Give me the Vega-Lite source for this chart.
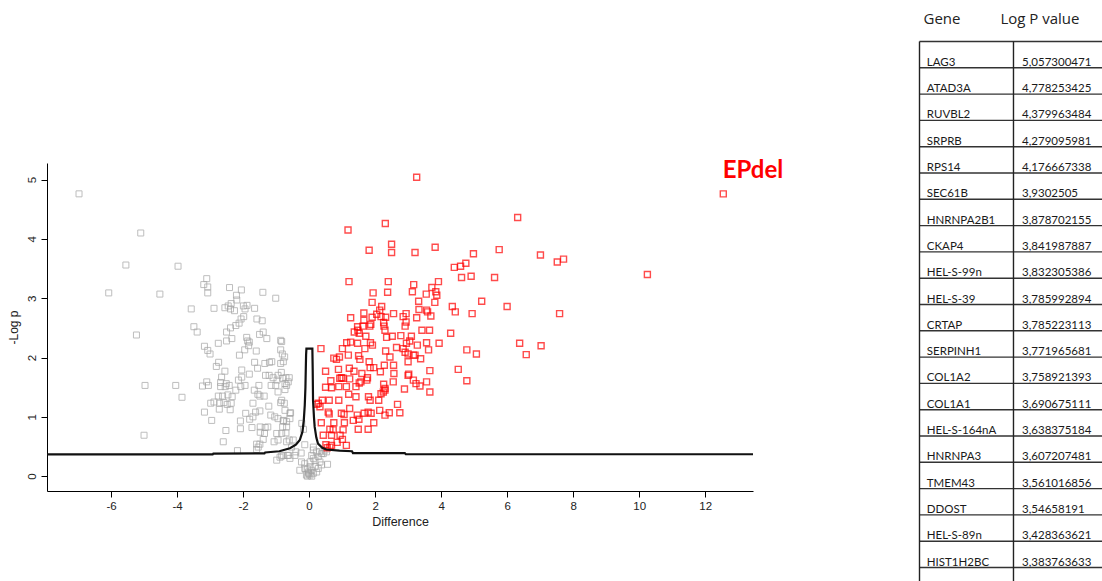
{
"$schema":"https://vega.github.io/schema/vega-lite/v6.json",
"width":706,"height":328,
"autosize":{"type":"none"},
"padding":{"left":47,"top":163,"right":349,"bottom":90},
"background":"white",
"config":{"view":{"stroke":null},"font":"Liberation Sans"},
"datasets":{
"pts":[
{"x":-6.97,"y":4.76,"g":"ns"},{"x":-5.10,"y":4.10,"g":"ns"},{"x":-5.55,"y":3.56,"g":"ns"},{"x":-3.97,"y":3.54,"g":"ns"},{"x":-6.07,"y":3.09,"g":"ns"},{"x":-4.52,"y":3.07,"g":"ns"},{"x":-3.10,"y":3.33,"g":"ns"},{"x":-3.19,"y":3.23,"g":"ns"},{"x":-3.07,"y":3.19,"g":"ns"},{"x":-3.07,"y":3.09,"g":"ns"},{"x":-2.41,"y":3.18,"g":"ns"},{"x":-2.05,"y":3.14,"g":"ns"},{"x":-1.40,"y":3.10,"g":"ns"},{"x":-1.01,"y":3.00,"g":"ns"},{"x":-3.57,"y":2.82,"g":"ns"},{"x":-2.88,"y":2.83,"g":"ns"},{"x":-2.55,"y":2.84,"g":"ns"},{"x":-2.45,"y":2.87,"g":"ns"},{"x":-2.36,"y":2.91,"g":"ns"},{"x":-2.20,"y":3.05,"g":"ns"},{"x":-2.19,"y":2.97,"g":"ns"},{"x":-2.26,"y":2.79,"g":"ns"},{"x":-2.38,"y":2.82,"g":"ns"},{"x":-1.99,"y":2.87,"g":"ns"},{"x":-1.88,"y":2.88,"g":"ns"},{"x":-1.65,"y":2.83,"g":"ns"},{"x":-1.94,"y":2.82,"g":"ns"},{"x":-1.98,"y":2.69,"g":"ns"},{"x":-2.06,"y":2.65,"g":"ns"},{"x":-2.12,"y":2.58,"g":"ns"},{"x":-2.22,"y":2.54,"g":"ns"},{"x":-2.38,"y":2.50,"g":"ns"},{"x":-3.49,"y":2.52,"g":"ns"},{"x":-3.39,"y":2.43,"g":"ns"},{"x":-2.50,"y":2.43,"g":"ns"},{"x":-1.58,"y":2.65,"g":"ns"},{"x":-1.42,"y":2.62,"g":"ns"},{"x":-1.50,"y":2.39,"g":"ns"},{"x":-1.39,"y":2.43,"g":"ns"},{"x":-5.23,"y":2.38,"g":"ns"},{"x":-1.89,"y":2.34,"g":"ns"},{"x":-1.28,"y":2.32,"g":"ns"},{"x":-0.86,"y":2.29,"g":"ns"},{"x":-2.34,"y":2.32,"g":"ns"},{"x":-2.50,"y":2.28,"g":"ns"},{"x":-1.86,"y":2.28,"g":"ns"},{"x":-1.81,"y":2.26,"g":"ns"},{"x":-2.75,"y":2.24,"g":"ns"},{"x":-1.83,"y":2.20,"g":"ns"},{"x":-3.17,"y":2.19,"g":"ns"},{"x":-3.07,"y":2.12,"g":"ns"},{"x":-3.00,"y":2.06,"g":"ns"},{"x":-1.95,"y":2.13,"g":"ns"},{"x":-2.11,"y":2.04,"g":"ns"},{"x":-1.60,"y":2.11,"g":"ns"},{"x":-0.86,"y":2.13,"g":"ns"},{"x":-0.81,"y":2.06,"g":"ns"},{"x":-0.74,"y":2.01,"g":"ns"},{"x":-2.74,"y":1.92,"g":"ns"},{"x":-2.81,"y":1.85,"g":"ns"},{"x":-1.65,"y":1.92,"g":"ns"},{"x":-1.56,"y":1.82,"g":"ns"},{"x":-1.34,"y":1.90,"g":"ns"},{"x":-1.20,"y":1.92,"g":"ns"},{"x":-1.13,"y":1.93,"g":"ns"},{"x":-0.86,"y":1.90,"g":"ns"},{"x":-2.55,"y":1.77,"g":"ns"},{"x":-2.04,"y":1.79,"g":"ns"},{"x":-1.81,"y":1.72,"g":"ns"},{"x":-1.32,"y":1.70,"g":"ns"},{"x":-1.21,"y":1.70,"g":"ns"},{"x":-0.84,"y":1.75,"g":"ns"},{"x":-4.04,"y":1.53,"g":"ns"},{"x":-3.85,"y":1.33,"g":"ns"},{"x":-3.23,"y":1.52,"g":"ns"},{"x":-3.05,"y":1.53,"g":"ns"},{"x":-3.10,"y":1.59,"g":"ns"},{"x":-2.65,"y":1.67,"g":"ns"},{"x":-2.68,"y":1.58,"g":"ns"},{"x":-2.68,"y":1.51,"g":"ns"},{"x":-2.51,"y":1.56,"g":"ns"},{"x":-2.42,"y":1.53,"g":"ns"},{"x":-2.54,"y":1.51,"g":"ns"},{"x":-2.14,"y":1.62,"g":"ns"},{"x":-2.04,"y":1.67,"g":"ns"},{"x":-1.94,"y":1.53,"g":"ns"},{"x":-2.07,"y":1.51,"g":"ns"},{"x":-2.22,"y":1.45,"g":"ns"},{"x":-2.33,"y":1.34,"g":"ns"},{"x":-2.46,"y":1.37,"g":"ns"},{"x":-2.62,"y":1.35,"g":"ns"},{"x":-2.75,"y":1.35,"g":"ns"},{"x":-2.88,"y":1.25,"g":"ns"},{"x":-2.98,"y":1.23,"g":"ns"},{"x":-2.71,"y":1.23,"g":"ns"},{"x":-2.58,"y":1.24,"g":"ns"},{"x":-2.48,"y":1.21,"g":"ns"},{"x":-2.36,"y":1.23,"g":"ns"},{"x":-2.72,"y":1.13,"g":"ns"},{"x":-2.39,"y":1.12,"g":"ns"},{"x":-3.17,"y":1.08,"g":"ns"},{"x":-2.95,"y":0.94,"g":"ns"},{"x":-1.66,"y":1.45,"g":"ns"},{"x":-1.52,"y":1.53,"g":"ns"},{"x":-1.49,"y":1.35,"g":"ns"},{"x":-1.36,"y":1.35,"g":"ns"},{"x":-1.55,"y":1.38,"g":"ns"},{"x":-1.09,"y":1.66,"g":"ns"},{"x":-0.94,"y":1.70,"g":"ns"},{"x":-0.97,"y":1.62,"g":"ns"},{"x":-1.15,"y":1.53,"g":"ns"},{"x":-1.01,"y":1.53,"g":"ns"},{"x":-0.80,"y":1.65,"g":"ns"},{"x":-0.70,"y":1.66,"g":"ns"},{"x":-0.60,"y":1.66,"g":"ns"},{"x":-0.73,"y":1.56,"g":"ns"},{"x":-0.68,"y":1.53,"g":"ns"},{"x":-0.94,"y":1.42,"g":"ns"},{"x":-0.73,"y":1.46,"g":"ns"},{"x":-1.70,"y":1.23,"g":"ns"},{"x":-1.62,"y":1.08,"g":"ns"},{"x":-1.49,"y":1.10,"g":"ns"},{"x":-1.92,"y":1.06,"g":"ns"},{"x":-1.80,"y":0.96,"g":"ns"},{"x":-1.70,"y":1.00,"g":"ns"},{"x":-2.08,"y":0.93,"g":"ns"},{"x":-2.08,"y":0.80,"g":"ns"},{"x":-2.52,"y":0.77,"g":"ns"},{"x":-2.60,"y":0.58,"g":"ns"},{"x":-2.17,"y":0.43,"g":"ns"},{"x":-1.22,"y":1.18,"g":"ns"},{"x":-0.86,"y":1.24,"g":"ns"},{"x":-0.75,"y":1.23,"g":"ns"},{"x":-1.16,"y":1.03,"g":"ns"},{"x":-1.04,"y":1.00,"g":"ns"},{"x":-0.94,"y":0.97,"g":"ns"},{"x":-0.78,"y":0.93,"g":"ns"},{"x":-0.68,"y":0.92,"g":"ns"},{"x":-0.58,"y":0.97,"g":"ns"},{"x":-0.56,"y":1.07,"g":"ns"},{"x":-1.73,"y":0.82,"g":"ns"},{"x":-1.48,"y":0.83,"g":"ns"},{"x":-1.33,"y":0.82,"g":"ns"},{"x":-1.25,"y":0.83,"g":"ns"},{"x":-1.48,"y":0.74,"g":"ns"},{"x":-1.35,"y":0.72,"g":"ns"},{"x":-1.39,"y":0.62,"g":"ns"},{"x":-1.59,"y":0.54,"g":"ns"},{"x":-1.54,"y":0.49,"g":"ns"},{"x":-1.49,"y":0.54,"g":"ns"},{"x":-1.59,"y":0.45,"g":"ns"},{"x":-0.98,"y":0.72,"g":"ns"},{"x":-0.80,"y":0.83,"g":"ns"},{"x":-0.70,"y":0.73,"g":"ns"},{"x":-0.60,"y":0.61,"g":"ns"},{"x":-0.94,"y":0.61,"g":"ns"},{"x":-1.06,"y":0.58,"g":"ns"},{"x":-0.22,"y":0.89,"g":"ns"},{"x":-0.17,"y":0.79,"g":"ns"},{"x":-0.98,"y":0.27,"g":"ns"},{"x":-0.83,"y":0.34,"g":"ns"},{"x":-0.66,"y":0.35,"g":"ns"},{"x":-0.58,"y":0.30,"g":"ns"},{"x":-0.43,"y":0.35,"g":"ns"},{"x":-0.40,"y":0.41,"g":"ns"},{"x":-0.24,"y":0.39,"g":"ns"},{"x":-0.13,"y":0.53,"g":"ns"},{"x":0.13,"y":0.44,"g":"ns"},{"x":0.23,"y":0.41,"g":"ns"},{"x":0.08,"y":0.35,"g":"ns"},{"x":0.28,"y":0.33,"g":"ns"},{"x":0.18,"y":0.27,"g":"ns"},{"x":0.33,"y":0.24,"g":"ns"},{"x":0.03,"y":0.24,"g":"ns"},{"x":-0.13,"y":0.21,"g":"ns"},{"x":-0.23,"y":0.24,"g":"ns"},{"x":-0.28,"y":0.10,"g":"ns"},{"x":-0.13,"y":0.13,"g":"ns"},{"x":-0.02,"y":0.07,"g":"ns"},{"x":0.08,"y":0.10,"g":"ns"},{"x":0.18,"y":0.16,"g":"ns"},{"x":0.28,"y":0.13,"g":"ns"},{"x":-0.08,"y":0.02,"g":"ns"},{"x":0.03,"y":0.02,"g":"ns"},{"x":0.13,"y":0.05,"g":"ns"},{"x":0.23,"y":0.07,"g":"ns"},{"x":0.38,"y":0.19,"g":"ns"},{"x":-0.63,"y":0.35,"g":"ns"},{"x":-0.88,"y":0.32,"g":"ns"},{"x":-0.78,"y":0.35,"g":"ns"},{"x":-0.53,"y":0.49,"g":"ns"},{"x":-0.68,"y":0.58,"g":"ns"},{"x":0.38,"y":0.38,"g":"ns"},{"x":0.48,"y":0.44,"g":"ns"},{"x":0.13,"y":0.49,"g":"ns"},{"x":0.32,"y":0.41,"g":"ns"},{"x":0.43,"y":0.38,"g":"ns"},{"x":0.53,"y":0.41,"g":"ns"},{"x":0.56,"y":0.20,"g":"ns"},{"x":0.13,"y":0.30,"g":"ns"},{"x":-0.02,"y":0.05,"g":"ns"},{"x":0.03,"y":0.16,"g":"ns"},{"x":-0.83,"y":2.27,"g":"ns"},{"x":-0.78,"y":1.93,"g":"ns"},{"x":-0.63,"y":1.59,"g":"ns"},{"x":-0.83,"y":1.28,"g":"ns"},{"x":-0.73,"y":1.11,"g":"ns"},{"x":-0.58,"y":1.06,"g":"ns"},{"x":-0.78,"y":0.94,"g":"ns"},{"x":-0.68,"y":0.83,"g":"ns"},{"x":-0.83,"y":0.72,"g":"ns"},{"x":-0.48,"y":0.61,"g":"ns"},{"x":-5.0,"y":0.69,"g":"ns"},{"x":-4.97,"y":1.53,"g":"ns"},{"x":-0.05,"y":0.0,"g":"ns"},{"x":0.0,"y":0.04,"g":"ns"},{"x":-0.05,"y":0.12,"g":"ns"},{"x":0.08,"y":0.0,"g":"ns"},
{"x":3.26,"y":5.04,"g":"sig"},{"x":6.32,"y":4.36,"g":"sig"},{"x":1.18,"y":4.15,"g":"sig"},{"x":2.31,"y":4.26,"g":"sig"},{"x":2.50,"y":3.91,"g":"sig"},{"x":1.82,"y":3.81,"g":"sig"},{"x":2.50,"y":3.77,"g":"sig"},{"x":3.21,"y":3.77,"g":"sig"},{"x":3.82,"y":3.86,"g":"sig"},{"x":4.98,"y":3.75,"g":"sig"},{"x":5.76,"y":3.82,"g":"sig"},{"x":7.01,"y":3.73,"g":"sig"},{"x":4.40,"y":3.52,"g":"sig"},{"x":4.59,"y":3.54,"g":"sig"},{"x":4.75,"y":3.59,"g":"sig"},{"x":1.21,"y":3.28,"g":"sig"},{"x":2.40,"y":3.28,"g":"sig"},{"x":3.17,"y":3.23,"g":"sig"},{"x":3.92,"y":3.28,"g":"sig"},{"x":4.62,"y":3.35,"g":"sig"},{"x":4.91,"y":3.37,"g":"sig"},{"x":5.62,"y":3.35,"g":"sig"},{"x":3.72,"y":3.18,"g":"sig"},{"x":3.84,"y":3.11,"g":"sig"},{"x":3.87,"y":3.05,"g":"sig"},{"x":3.13,"y":3.11,"g":"sig"},{"x":3.55,"y":3.07,"g":"sig"},{"x":1.94,"y":3.09,"g":"sig"},{"x":2.38,"y":3.10,"g":"sig"},{"x":1.91,"y":2.93,"g":"sig"},{"x":2.20,"y":2.86,"g":"sig"},{"x":3.32,"y":2.95,"g":"sig"},{"x":3.81,"y":2.93,"g":"sig"},{"x":4.34,"y":2.86,"g":"sig"},{"x":4.43,"y":2.77,"g":"sig"},{"x":5.23,"y":2.95,"g":"sig"},{"x":6.00,"y":2.86,"g":"sig"},{"x":3.33,"y":2.81,"g":"sig"},{"x":3.56,"y":2.80,"g":"sig"},{"x":3.59,"y":2.77,"g":"sig"},{"x":4.94,"y":2.74,"g":"sig"},{"x":1.66,"y":2.75,"g":"sig"},{"x":2.14,"y":2.80,"g":"sig"},{"x":2.05,"y":2.73,"g":"sig"},{"x":2.18,"y":2.69,"g":"sig"},{"x":2.32,"y":2.68,"g":"sig"},{"x":2.56,"y":2.74,"g":"sig"},{"x":2.94,"y":2.74,"g":"sig"},{"x":2.85,"y":2.69,"g":"sig"},{"x":3.26,"y":2.67,"g":"sig"},{"x":3.69,"y":2.70,"g":"sig"},{"x":1.26,"y":2.67,"g":"sig"},{"x":1.66,"y":2.63,"g":"sig"},{"x":1.91,"y":2.68,"g":"sig"},{"x":2.26,"y":2.59,"g":"sig"},{"x":2.94,"y":2.60,"g":"sig"},{"x":2.27,"y":2.53,"g":"sig"},{"x":1.87,"y":2.56,"g":"sig"},{"x":1.84,"y":2.53,"g":"sig"},{"x":1.63,"y":2.53,"g":"sig"},{"x":1.47,"y":2.52,"g":"sig"},{"x":2.91,"y":2.53,"g":"sig"},{"x":1.37,"y":2.43,"g":"sig"},{"x":1.52,"y":2.41,"g":"sig"},{"x":1.48,"y":2.46,"g":"sig"},{"x":1.72,"y":2.36,"g":"sig"},{"x":2.30,"y":2.46,"g":"sig"},{"x":2.35,"y":2.34,"g":"sig"},{"x":2.52,"y":2.36,"g":"sig"},{"x":2.78,"y":2.37,"g":"sig"},{"x":3.10,"y":2.36,"g":"sig"},{"x":3.42,"y":2.46,"g":"sig"},{"x":3.65,"y":2.46,"g":"sig"},{"x":4.29,"y":2.41,"g":"sig"},{"x":12.55,"y":4.76,"g":"sig"},{"x":10.25,"y":3.40,"g":"sig"},{"x":7.52,"y":3.61,"g":"sig"},{"x":7.71,"y":3.66,"g":"sig"},{"x":7.59,"y":2.74,"g":"sig"},{"x":3.56,"y":2.25,"g":"sig"},{"x":3.62,"y":2.13,"g":"sig"},{"x":3.94,"y":2.24,"g":"sig"},{"x":4.78,"y":2.13,"g":"sig"},{"x":5.07,"y":2.06,"g":"sig"},{"x":6.38,"y":2.24,"g":"sig"},{"x":6.58,"y":2.05,"g":"sig"},{"x":7.03,"y":2.20,"g":"sig"},{"x":3.38,"y":1.98,"g":"sig"},{"x":3.66,"y":1.78,"g":"sig"},{"x":4.52,"y":1.80,"g":"sig"},{"x":3.56,"y":1.59,"g":"sig"},{"x":4.78,"y":1.61,"g":"sig"},{"x":3.05,"y":2.28,"g":"sig"},{"x":3.28,"y":2.21,"g":"sig"},{"x":3.16,"y":2.04,"g":"sig"},{"x":3.21,"y":2.04,"g":"sig"},{"x":1.14,"y":2.25,"g":"sig"},{"x":1.26,"y":2.26,"g":"sig"},{"x":1.47,"y":2.24,"g":"sig"},{"x":1.86,"y":2.25,"g":"sig"},{"x":1.92,"y":2.21,"g":"sig"},{"x":0.36,"y":2.15,"g":"sig"},{"x":1.01,"y":2.15,"g":"sig"},{"x":1.69,"y":2.15,"g":"sig"},{"x":2.32,"y":2.11,"g":"sig"},{"x":2.65,"y":2.17,"g":"sig"},{"x":2.91,"y":2.09,"g":"sig"},{"x":0.75,"y":1.99,"g":"sig"},{"x":0.92,"y":2.01,"g":"sig"},{"x":0.83,"y":1.97,"g":"sig"},{"x":1.19,"y":2.04,"g":"sig"},{"x":1.50,"y":2.03,"g":"sig"},{"x":1.54,"y":1.97,"g":"sig"},{"x":1.82,"y":1.93,"g":"sig"},{"x":1.96,"y":1.83,"g":"sig"},{"x":1.85,"y":1.83,"g":"sig"},{"x":2.28,"y":1.87,"g":"sig"},{"x":2.56,"y":1.87,"g":"sig"},{"x":2.45,"y":2.01,"g":"sig"},{"x":0.50,"y":1.77,"g":"sig"},{"x":0.89,"y":1.80,"g":"sig"},{"x":1.22,"y":1.82,"g":"sig"},{"x":1.36,"y":1.77,"g":"sig"},{"x":1.60,"y":1.73,"g":"sig"},{"x":2.16,"y":1.76,"g":"sig"},{"x":2.57,"y":1.73,"g":"sig"},{"x":3.02,"y":1.72,"g":"sig"},{"x":0.98,"y":1.66,"g":"sig"},{"x":1.03,"y":1.65,"g":"sig"},{"x":0.93,"y":1.65,"g":"sig"},{"x":1.23,"y":1.64,"g":"sig"},{"x":1.77,"y":1.66,"g":"sig"},{"x":0.66,"y":1.61,"g":"sig"},{"x":1.57,"y":1.59,"g":"sig"},{"x":1.75,"y":1.62,"g":"sig"},{"x":3.16,"y":1.62,"g":"sig"},{"x":3.24,"y":1.56,"g":"sig"},{"x":3.36,"y":1.52,"g":"sig"},{"x":0.50,"y":1.50,"g":"sig"},{"x":0.68,"y":1.49,"g":"sig"},{"x":0.90,"y":1.51,"g":"sig"},{"x":1.13,"y":1.51,"g":"sig"},{"x":1.42,"y":1.51,"g":"sig"},{"x":1.52,"y":1.57,"g":"sig"},{"x":2.26,"y":1.55,"g":"sig"},{"x":2.30,"y":1.48,"g":"sig"},{"x":2.18,"y":1.39,"g":"sig"},{"x":2.25,"y":1.42,"g":"sig"},{"x":2.89,"y":1.47,"g":"sig"},{"x":1.20,"y":1.38,"g":"sig"},{"x":1.42,"y":1.34,"g":"sig"},{"x":1.80,"y":1.34,"g":"sig"},{"x":1.85,"y":1.28,"g":"sig"},{"x":0.61,"y":1.28,"g":"sig"},{"x":0.90,"y":1.28,"g":"sig"},{"x":2.11,"y":1.28,"g":"sig"},{"x":2.68,"y":1.21,"g":"sig"},{"x":0.40,"y":1.28,"g":"sig"},{"x":0.28,"y":1.23,"g":"sig"},{"x":0.33,"y":1.17,"g":"sig"},{"x":0.23,"y":1.21,"g":"sig"},{"x":0.58,"y":1.08,"g":"sig"},{"x":0.61,"y":1.05,"g":"sig"},{"x":0.98,"y":1.06,"g":"sig"},{"x":1.23,"y":1.14,"g":"sig"},{"x":1.46,"y":1.03,"g":"sig"},{"x":1.67,"y":1.06,"g":"sig"},{"x":1.79,"y":1.08,"g":"sig"},{"x":1.88,"y":1.06,"g":"sig"},{"x":2.14,"y":1.11,"g":"sig"},{"x":2.43,"y":1.07,"g":"sig"},{"x":2.75,"y":1.07,"g":"sig"},{"x":1.06,"y":1.04,"g":"sig"},{"x":1.34,"y":0.94,"g":"sig"},{"x":1.51,"y":0.96,"g":"sig"},{"x":0.37,"y":0.90,"g":"sig"},{"x":0.75,"y":0.90,"g":"sig"},{"x":1.07,"y":0.90,"g":"sig"},{"x":1.96,"y":0.90,"g":"sig"},{"x":1.49,"y":0.79,"g":"sig"},{"x":1.79,"y":0.79,"g":"sig"},{"x":0.63,"y":0.79,"g":"sig"},{"x":0.73,"y":0.78,"g":"sig"},{"x":1.03,"y":0.78,"g":"sig"},{"x":0.43,"y":0.69,"g":"sig"},{"x":0.68,"y":0.69,"g":"sig"},{"x":0.94,"y":0.69,"g":"sig"},{"x":0.85,"y":0.57,"g":"sig"},{"x":0.51,"y":0.53,"g":"sig"},{"x":0.63,"y":0.49,"g":"sig"},{"x":0.68,"y":0.52,"g":"sig"},{"x":0.55,"y":0.48,"g":"sig"},{"x":1.13,"y":0.52,"g":"sig"},{"x":1.01,"y":0.62,"g":"sig"},{"x":3.66,"y":1.42,"g":"sig"},{"x":2.95,"y":2.24,"g":"sig"},{"x":3.00,"y":1.93,"g":"sig"},{"x":3.00,"y":2.06,"g":"sig"},{"x":2.85,"y":2.15,"g":"sig"},{"x":3.00,"y":1.70,"g":"sig"},{"x":2.55,"y":1.59,"g":"sig"},{"x":2.30,"y":1.45,"g":"sig"},{"x":2.30,"y":1.03,"g":"sig"}
],
"curve":[
{"o":1,"x":-7.94,"y":0.366},{"o":2,"x":-2.92,"y":0.366},{"o":3,"x":-2.9,"y":0.38},{"o":4,"x":-1.35,"y":0.385},{"o":5,"x":-1.33,"y":0.40},{"o":6,"x":-0.9,"y":0.42},{"o":7,"x":-0.58,"y":0.47},{"o":8,"x":-0.4,"y":0.53},{"o":9,"x":-0.28,"y":0.61},{"o":10,"x":-0.2,"y":0.75},{"o":11,"x":-0.16,"y":0.94},{"o":12,"x":-0.13,"y":1.2},{"o":13,"x":-0.11,"y":1.5},{"o":14,"x":-0.10,"y":1.79},{"o":15,"x":-0.09,"y":2.05},{"o":16,"x":-0.08,"y":2.15},{"o":17,"x":0.1,"y":2.15},{"o":18,"x":0.11,"y":1.8},{"o":19,"x":0.12,"y":1.28},{"o":20,"x":0.15,"y":0.98},{"o":21,"x":0.17,"y":0.83},{"o":22,"x":0.22,"y":0.65},{"o":23,"x":0.27,"y":0.55},{"o":24,"x":0.4,"y":0.48},{"o":25,"x":0.52,"y":0.45},{"o":26,"x":0.92,"y":0.43},{"o":27,"x":1.3,"y":0.42},{"o":28,"x":1.33,"y":0.39},{"o":29,"x":2.9,"y":0.39},{"o":30,"x":2.93,"y":0.37},{"o":31,"x":13.45,"y":0.37}
],
"genes":[
{"rank":1,"gene":"LAG3","logp":"5,057300471"},
{"rank":2,"gene":"ATAD3A","logp":"4,778253425"},
{"rank":3,"gene":"RUVBL2","logp":"4,379963484"},
{"rank":4,"gene":"SRPRB","logp":"4,279095981"},
{"rank":5,"gene":"RPS14","logp":"4,176667338"},
{"rank":6,"gene":"SEC61B","logp":"3,9302505"},
{"rank":7,"gene":"HNRNPA2B1","logp":"3,878702155"},
{"rank":8,"gene":"CKAP4","logp":"3,841987887"},
{"rank":9,"gene":"HEL-S-99n","logp":"3,832305386"},
{"rank":10,"gene":"HEL-S-39","logp":"3,785992894"},
{"rank":11,"gene":"CRTAP","logp":"3,785223113"},
{"rank":12,"gene":"SERPINH1","logp":"3,771965681"},
{"rank":13,"gene":"COL1A2","logp":"3,758921393"},
{"rank":14,"gene":"COL1A1","logp":"3,690675111"},
{"rank":15,"gene":"HEL-S-164nA","logp":"3,638375184"},
{"rank":16,"gene":"HNRNPA3","logp":"3,607207481"},
{"rank":17,"gene":"TMEM43","logp":"3,561016856"},
{"rank":18,"gene":"DDOST","logp":"3,54658191"},
{"rank":19,"gene":"HEL-S-89n","logp":"3,428363621"},
{"rank":20,"gene":"HIST1H2BC","logp":"3,383763633"}
]
},
"layer":[
{
"layer":[
{"data":{"name":"pts"},
"mark":{"type":"point","shape":"square","filled":false,"size":36},
"encoding":{
"x":{"field":"x","type":"quantitative","title":"Difference","scale":{"domain":[-7.94,13.45],"nice":false,"zero":false},
"axis":{"values":[-6,-4,-2,0,2,4,6,8,10,12],"labelExpr":"'' + datum.value","grid":false,"domainColor":"#000","tickColor":"#000","tickSize":6,"labelFont":"Liberation Sans","labelFontSize":11.5,"labelColor":"#222","labelPadding":3,"titleFont":"Liberation Sans","titleFontSize":12.5,"titleFontWeight":"normal","titleColor":"#222","titlePadding":4}},
"y":{"field":"y","type":"quantitative","title":"-Log p","scale":{"domain":[-0.25,5.28],"nice":false,"zero":false},
"axis":{"values":[0,1,2,3,4,5],"labelExpr":"'' + datum.value","labelAngle":-90,"grid":false,"domainColor":"#000","tickColor":"#000","tickSize":6,"labelFont":"Liberation Sans","labelFontSize":11.5,"labelColor":"#222","labelPadding":4,"titleFont":"Liberation Sans","titleFontSize":12,"titleFontWeight":"normal","titleColor":"#222","titlePadding":6}},
"color":{"field":"g","type":"nominal","scale":{"domain":["ns","sig"],"range":["#a3a3a3","#ff0000"]},"legend":null},
"strokeWidth":{"field":"g","type":"nominal","scale":{"domain":["ns","sig"],"range":[1,1.4]},"legend":null}
}},
{"data":{"name":"curve"},
"mark":{"type":"line","color":"#111","strokeWidth":2.2},
"encoding":{
"x":{"field":"x","type":"quantitative","title":"Difference"},
"y":{"field":"y","type":"quantitative","title":"-Log p"},
"order":{"field":"o","type":"quantitative"}
}},
{"data":{"values":[{}]},
"mark":{"type":"text","text":"EPdel","font":"Lato","fontSize":24,"fontWeight":"bold","color":"#ff0000","align":"center","baseline":"middle"},
"encoding":{
"x":{"datum":13.45,"type":"quantitative","title":"Difference"},
"y":{"datum":5.14,"type":"quantitative","title":"-Log p"}
}}
]
},
{
"layer":[
{"data":{"name":"genes"},
"mark":{"type":"rule","color":"#333","strokeWidth":1.4},
"encoding":{
"x":{"datum":0,"type":"quantitative","scale":{"domain":[0,100],"range":[872.5,1055],"nice":false,"zero":false},"axis":null},
"x2":{"datum":100},
"y":{"field":"rank","type":"quantitative","scale":{"domain":[0,20],"range":[-121.5,404.5],"nice":false,"zero":false},"axis":null}
}},
{"data":{"values":[{}]},
"mark":{"type":"rule","color":"#333","strokeWidth":1.4},
"encoding":{
"x":{"datum":0,"type":"quantitative"},
"x2":{"datum":100},
"y":{"datum":0,"type":"quantitative"}
}},
{"data":{"values":[{}]},
"mark":{"type":"rule","color":"#222","strokeWidth":1.4},
"encoding":{
"x":{"datum":0,"type":"quantitative"},
"y":{"datum":0,"type":"quantitative"},
"y2":{"datum":21}
}},
{"data":{"values":[{}]},
"mark":{"type":"rule","color":"#222","strokeWidth":1.4},
"encoding":{
"x":{"datum":51.5,"type":"quantitative"},
"y":{"datum":0,"type":"quantitative"},
"y2":{"datum":21}
}},
{"data":{"name":"genes"},
"mark":{"type":"text","font":"Lato","fontSize":11.5,"color":"#1a1a1a","align":"left","baseline":"alphabetic","dy":-2},
"encoding":{
"x":{"datum":4,"type":"quantitative"},
"y":{"field":"rank","type":"quantitative"},
"text":{"field":"gene"}
}},
{"data":{"name":"genes"},
"mark":{"type":"text","font":"Lato","fontSize":11.5,"color":"#1a1a1a","align":"left","baseline":"alphabetic","dy":-2},
"encoding":{
"x":{"datum":56.2,"type":"quantitative"},
"y":{"field":"rank","type":"quantitative"},
"text":{"field":"logp"}
}},
{"data":{"values":[{}]},
"mark":{"type":"text","text":"Gene","font":"Open Sans","fontSize":15,"color":"#222","align":"center","baseline":"middle"},
"encoding":{
"x":{"datum":12.3,"type":"quantitative"},
"y":{"datum":-0.85,"type":"quantitative"}
}},
{"data":{"values":[{}]},
"mark":{"type":"text","text":"Log P value","font":"Open Sans","fontSize":15,"color":"#222","align":"center","baseline":"middle"},
"encoding":{
"x":{"datum":66,"type":"quantitative"},
"y":{"datum":-0.85,"type":"quantitative"}
}}
]
}
],
"resolve":{"scale":{"x":"independent","y":"independent"}}
}
